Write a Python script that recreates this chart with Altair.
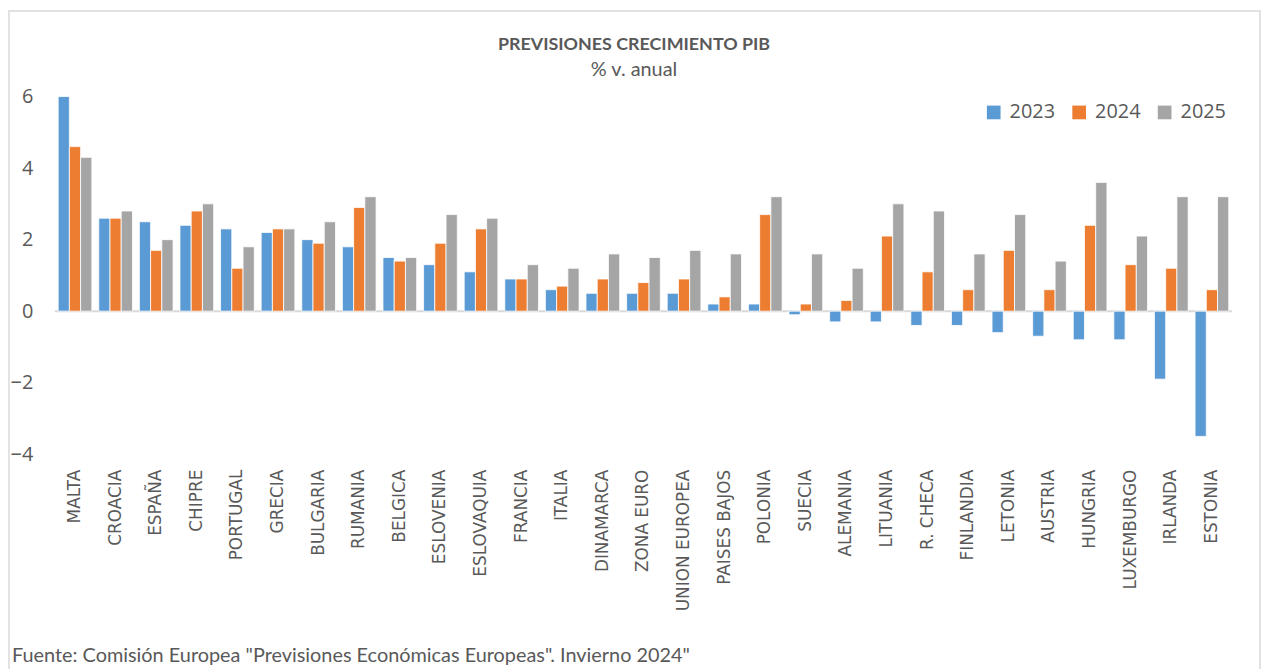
import altair as alt
import pandas as pd

countries = ["MALTA", "CROACIA", "ESPAÑA", "CHIPRE", "PORTUGAL", "GRECIA", "BULGARIA",
             "RUMANIA", "BELGICA", "ESLOVENIA", "ESLOVAQUIA", "FRANCIA", "ITALIA",
             "DINAMARCA", "ZONA EURO", "UNION EUROPEA", "PAISES BAJOS", "POLONIA",
             "SUECIA", "ALEMANIA", "LITUANIA", "R. CHECA", "FINLANDIA", "LETONIA",
             "AUSTRIA", "HUNGRIA", "LUXEMBURGO", "IRLANDA", "ESTONIA"]
v2023 = [6.0, 2.6, 2.5, 2.4, 2.3, 2.2, 2.0, 1.8, 1.5, 1.3, 1.1, 0.9, 0.6, 0.5, 0.5, 0.5,
         0.2, 0.2, -0.1, -0.3, -0.3, -0.4, -0.4, -0.6, -0.7, -0.8, -0.8, -1.9, -3.5]
v2024 = [4.6, 2.6, 1.7, 2.8, 1.2, 2.3, 1.9, 2.9, 1.4, 1.9, 2.3, 0.9, 0.7, 0.9, 0.8, 0.9,
         0.4, 2.7, 0.2, 0.3, 2.1, 1.1, 0.6, 1.7, 0.6, 2.4, 1.3, 1.2, 0.6]
v2025 = [4.3, 2.8, 2.0, 3.0, 1.8, 2.3, 2.5, 3.2, 1.5, 2.7, 2.6, 1.3, 1.2, 1.6, 1.5, 1.7,
         1.6, 3.2, 1.6, 1.2, 3.0, 2.8, 1.6, 2.7, 1.4, 3.6, 2.1, 3.2, 3.2]
years = ["2023", "2024", "2025"]
colors = ["#5B9BD5", "#ED7D31", "#A5A5A5"]
y_ticks = [-4, -2, 0, 2, 4, 6]
title_text = "PREVISIONES CRECIMIENTO PIB"
subtitle_text = "% v. anual"
source_text = 'Fuente: Comisión Europea "Previsiones Económicas Europeas". Invierno 2024"'

rows = []
for yr, vals in zip(years, [v2023, v2024, v2025]):
    for c, v in zip(countries, vals):
        rows.append({"pais": c, "año": yr, "valor": v})
df = pd.DataFrame(rows)

W, H = 1185, 360
GREY = "#595959"

bars = alt.Chart(df).mark_bar(stroke="white", strokeWidth=0.8).encode(
    x=alt.X("pais:N", sort=countries, title=None,
            scale=alt.Scale(paddingInner=0.17, paddingOuter=0.085),
            axis=alt.Axis(labelAngle=270, labelFontSize=17, labelColor=GREY,
                          labelFont="DejaVu Sans", labelPadding=15,
                          domain=False, ticks=False, grid=False, labelOverlap=False)),
    xOffset=alt.XOffset("año:N", sort=years, scale=alt.Scale(paddingInner=0, paddingOuter=0)),
    y=alt.Y("valor:Q", title=None,
            scale=alt.Scale(domain=[-4, 6], nice=False),
            axis=alt.Axis(values=y_ticks, labelFontSize=20, labelColor=GREY,
                          labelFont="Open Sans", labelPadding=22,
                          domain=False, ticks=False, grid=False)),
    color=alt.Color("año:N", sort=years,
                    scale=alt.Scale(domain=years, range=colors),
                    legend=alt.Legend(title=None, orient="none", legendX=935, legendY=6,
                                      direction="horizontal", symbolType="square",
                                      symbolSize=190, symbolStrokeWidth=0,
                                      labelFontSize=20, labelColor=GREY,
                                      labelFont="Open Sans", labelOffset=6,
                                      columnPadding=14)),
)

zero = alt.Chart(pd.DataFrame({"y": [0]})).mark_rule(color="#d9d9d9", strokeWidth=2).encode(
    y="y:Q"
)

footer = alt.Chart(pd.DataFrame({"t": [source_text]})).mark_text(
    align="left", baseline="middle", fontSize=20, font="Lato", color=GREY
).encode(text="t:N", x=alt.value(-43), y=alt.value(563))

title = alt.Chart(pd.DataFrame({"t": [title_text]})).mark_text(
    align="center", baseline="middle", fontSize=18, font="Lato", fontWeight="bold", color=GREY
).encode(text="t:N", x=alt.value(583), y=alt.value(-52))

subtitle = alt.Chart(pd.DataFrame({"t": [subtitle_text]})).mark_text(
    align="center", baseline="middle", fontSize=20, font="Lato", color=GREY
).encode(text="t:N", x=alt.value(583), y=alt.value(-27))

border = alt.Chart(pd.DataFrame({"a": [0]})).mark_rect(
    fill=None, stroke="#d9d9d9", strokeWidth=1.5
).encode(x=alt.value(-46), x2=alt.value(1213), y=alt.value(-86), y2=alt.value(580))

chart = alt.layer(border, zero, bars, footer, title, subtitle).properties(
    width=W, height=H,
    background="white",
    autosize=alt.AutoSizeParams(type="none"),
    padding={"left": 47, "top": 87, "right": 32, "bottom": 214},
).configure_view(strokeWidth=0, stroke=None)

chart.save("out.html", embed_options={"renderer": "svg", "actions": False})
